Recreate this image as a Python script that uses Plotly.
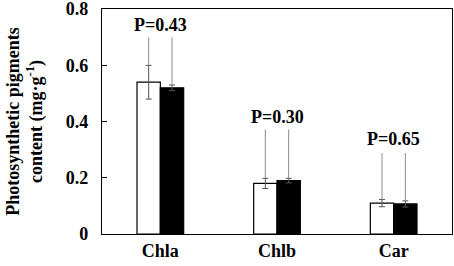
import plotly.graph_objects as go

categories = ["Chla", "Chlb", "Car"]
control_vals = [0.54, 0.18, 0.11]
control_err = [0.06, 0.018, 0.013]
treat_vals = [0.52, 0.19, 0.107]
treat_err = [0.01, 0.008, 0.011]
p_labels = ["P=0.43", "P=0.30", "P=0.65"]
line_tops = [0.70, 0.372, 0.288]
label_y = [0.745, 0.415, 0.338]
y_ticks = [0, 0.2, 0.4, 0.6, 0.8]
y_ticktext = ["0", "0.2", "0.4", "0.6", "0.8"]

FONT = "Liberation Serif, Times New Roman, serif"
idx = list(range(len(categories)))
off = 0.1

fig = go.Figure()
fig.add_trace(go.Bar(x=idx, y=control_vals, name="Control",
                     marker=dict(color="white", line=dict(color="black", width=1.2)),
                     error_y=dict(type="data", array=control_err, color="#555555", thickness=1, width=3)))
fig.add_trace(go.Bar(x=idx, y=treat_vals, name="Treatment",
                     marker=dict(color="black", line=dict(color="black", width=1.2)),
                     error_y=dict(type="data", array=treat_err, color="#555555", thickness=1, width=3)))

# connector lines from error-bar tops to P labels
for i in idx:
    for xv, v, e in ((i - off, control_vals[i], control_err[i]), (i + off, treat_vals[i], treat_err[i])):
        fig.add_trace(go.Scatter(x=[xv, xv], y=[v + e, line_tops[i]], mode="lines",
                                 line=dict(color="#8c8c8c", width=1), showlegend=False,
                                 hoverinfo="skip"))
    fig.add_annotation(x=i, y=label_y[i], text="<b>%s</b>" % p_labels[i], showarrow=False,
                       font=dict(family=FONT, size=18, color="black"), xref="x", yref="y")

fig.update_layout(
    width=454, height=266,
    margin=dict(l=102, r=2, t=9, b=32, autoexpand=False),
    plot_bgcolor="white", paper_bgcolor="white",
    barmode="group", bargap=0.6, bargroupgap=0,
    showlegend=False,
    font=dict(family=FONT, size=18, color="black"),
)
fig.update_xaxes(range=[-0.5, 2.5], tickvals=idx, ticktext=["<b>%s</b>" % c for c in categories],
                 showline=True, linecolor="black", linewidth=1.2, mirror=True,
                 ticks="", ticklen=0, ticklabelstandoff=0, showgrid=False, zeroline=False,
                 tickfont=dict(family=FONT, size=18, color="black"))
fig.update_yaxes(range=[0, 0.8005], tickvals=y_ticks, ticktext=["<b>%s</b>" % t for t in y_ticktext],
                 showline=True, linecolor="black", linewidth=1.2, mirror=True,
                 ticks="inside", ticklen=5, tickcolor="black", showgrid=False, zeroline=False,
                 ticklabelstandoff=9, ticklabeloverflow="allow",
                 tickfont=dict(family=FONT, size=18, color="black"),
                 title=dict(text="<b>Photosynthetic pigments<br>content (mg·g<sup>-1</sup>)</b>",
                            font=dict(family=FONT, size=18, color="black"), standoff=18))
fig.write_html("out.html", config={"displayModeBar": False},
               post_script="document.body.style.margin='0';")
